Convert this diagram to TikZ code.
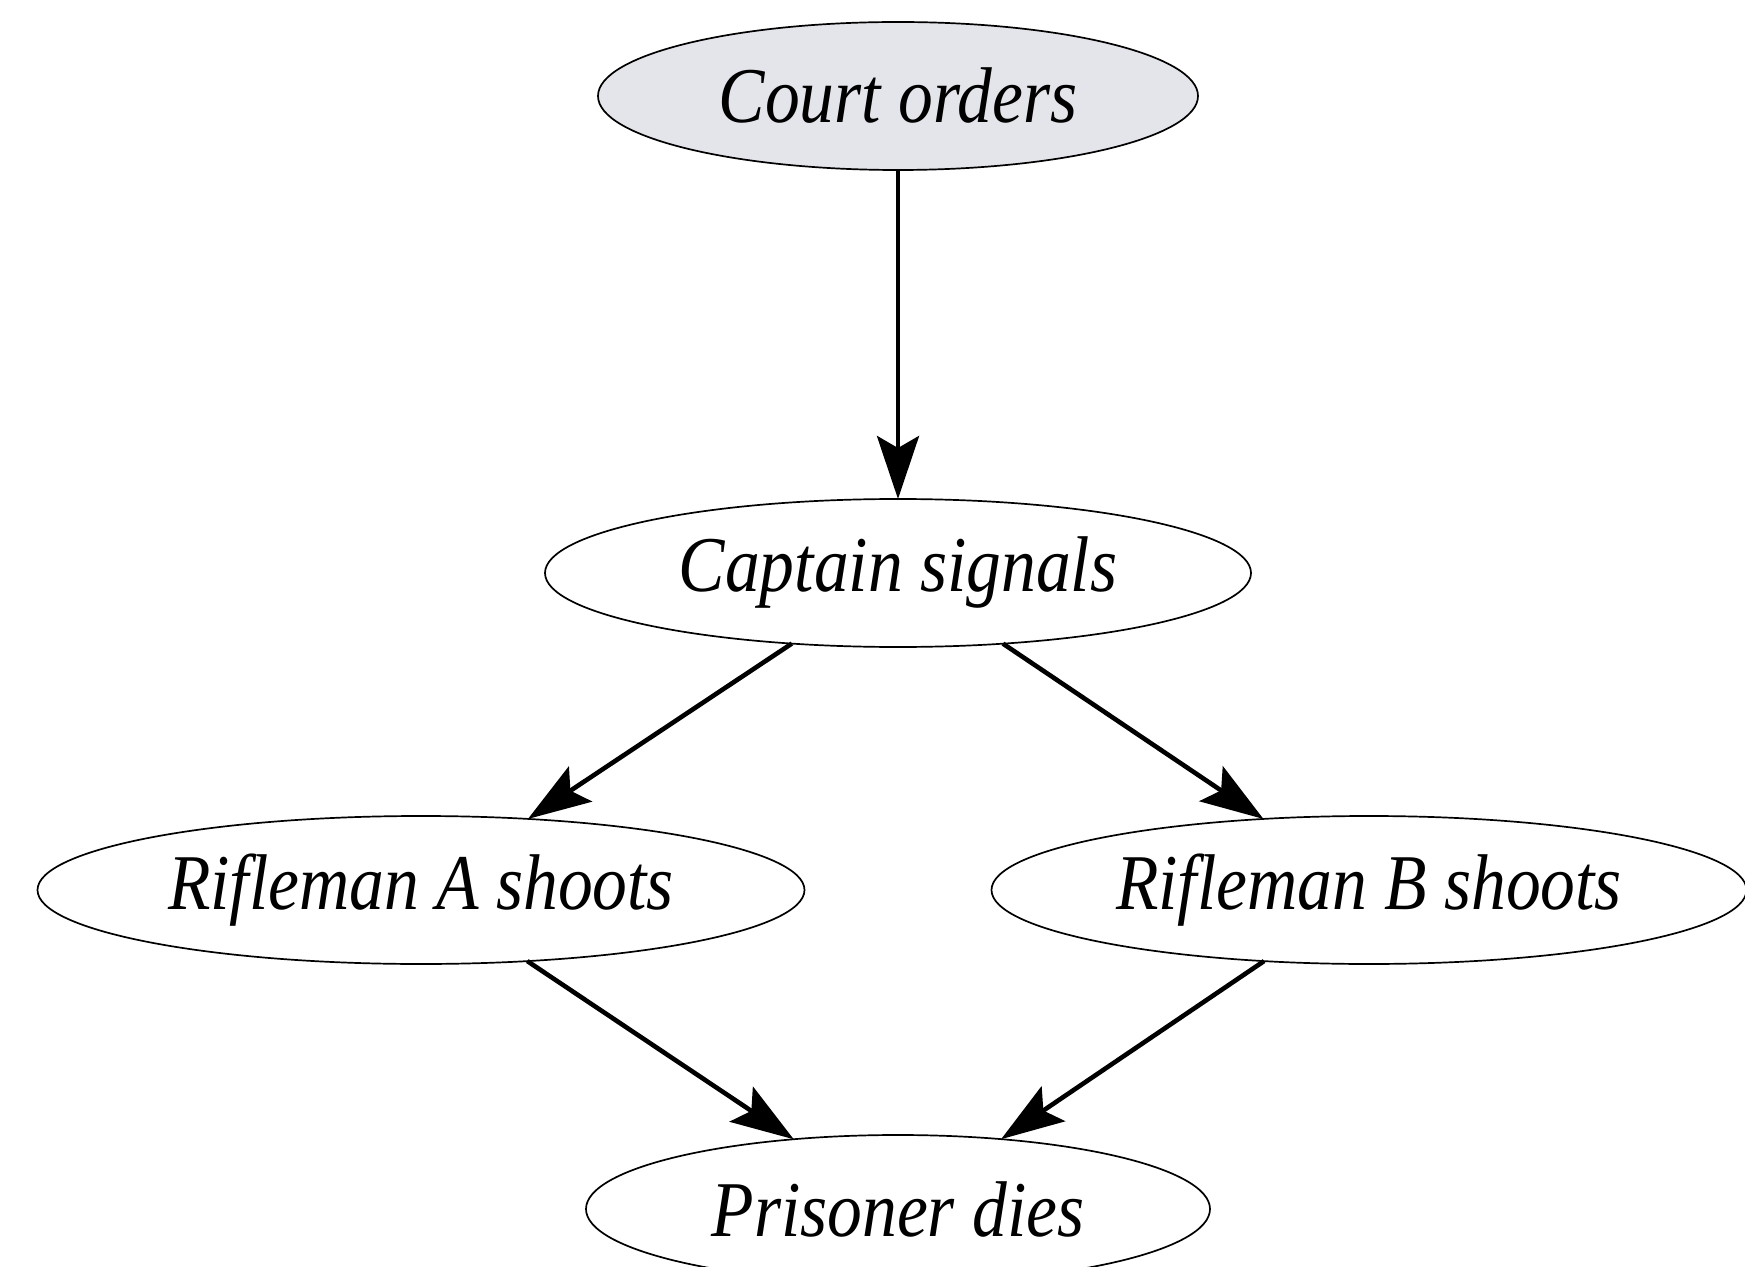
\documentclass[tikz,border=0pt]{standalone}
\usepackage{fontspec}
\usetikzlibrary{positioning, arrows.meta, shapes.geometric}
\newfontfamily\evtfont{Liberation Serif}[FakeStretch=0.88]
\definecolor{courtfill}{RGB}{228,228,235}

\begin{document}
\begin{tikzpicture}[x=0.5pt, y=-0.5pt,
    EVT/.style = {ellipse, draw, line width=0.85pt,
                  fill=#1,
                  minimum width=300pt, minimum height=74pt,
                  inner sep=0pt, outer sep=0pt,
                  font=\evtfont\itshape\fontsize{39.5pt}{47pt}\selectfont},
    EVT/.default = white
                    ]

    \tikzset{ARR/.style={line width=2.3pt,
                -{Stealth[length=31.5pt, width=21pt, inset=6pt]}}}

    \useasboundingbox (0,0) rectangle (1745,1267);

    % \node (court) [EVT] at (898,96) {Court orders};
    \node (court) [EVT=courtfill] at (898,96) {Court orders};
    \node (captain) [EVT, minimum width=353pt,
            below=164.5pt of court] {Captain signals};
    \node (rifA) [EVT, minimum width=383.5pt] at (421,890) {Rifleman A shoots};
    \node (rifB) [EVT, minimum width=377.5pt] at (1369,890) {Rifleman B shoots};
    \node (prisoner) [EVT, minimum width=312pt,
            below=244pt of captain] {Prisoner dies};

    \draw[ARR] (court) -- (captain);
    \draw[ARR] (captain) -- (rifA);
    \draw[ARR] (captain) -- (rifB);
    \draw[ARR] (rifA) -- (prisoner);
    \draw[ARR] (rifB) -- (prisoner);
\end{tikzpicture}
\end{document}
